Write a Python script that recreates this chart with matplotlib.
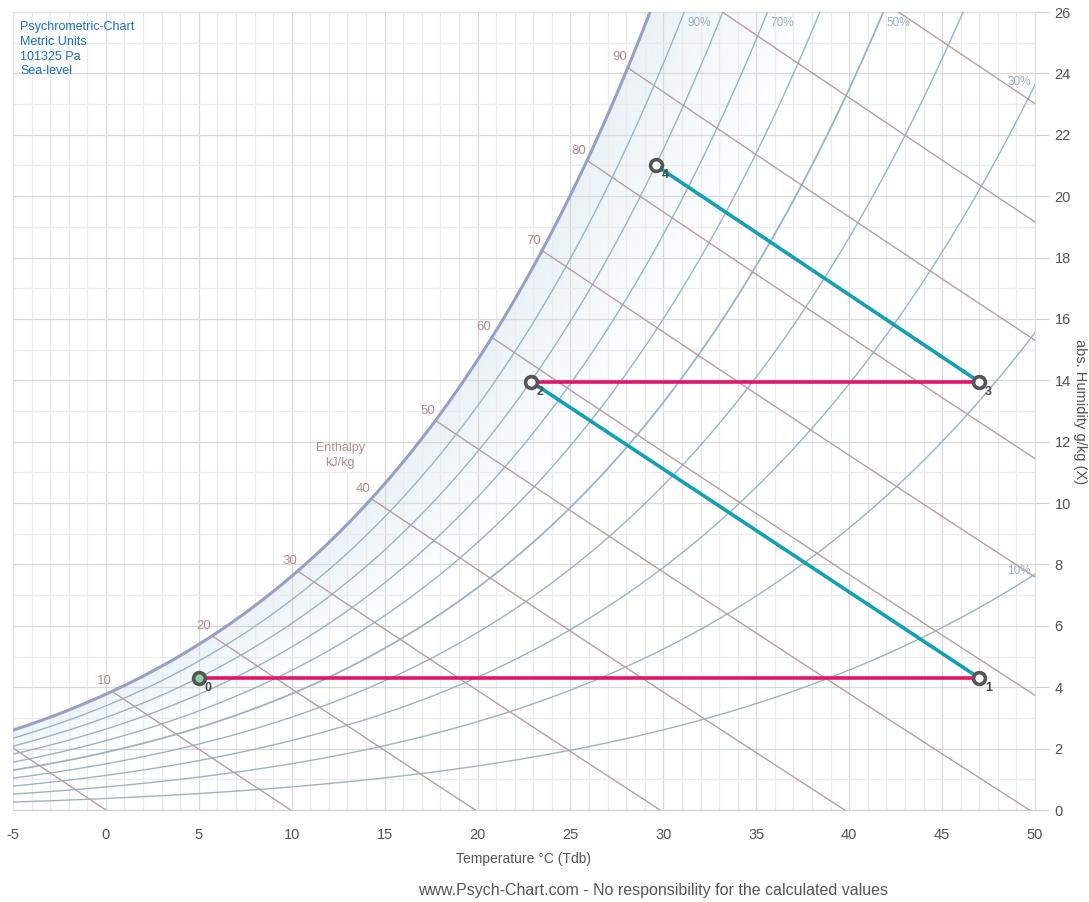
import numpy as np
import matplotlib
matplotlib.use("Agg")
import matplotlib.pyplot as plt
from matplotlib.colors import to_rgb

plt.rcParams['font.family'] = ['Liberation Sans', 'DejaVu Sans']
plt.rcParams['axes.unicode_minus'] = False

# chart settings
P = 101325.0
t_min, t_max = -5, 50
x_min, x_max = 0, 26

rh_levels = [0.1, 0.2, 0.3, 0.4, 0.5, 0.6, 0.7, 0.8, 0.9]
rh_labels = {0.9: "90%", 0.7: "70%", 0.5: "50%", 0.3: "30%", 0.1: "10%"}
enthalpy_levels = [0, 10, 20, 30, 40, 50, 60, 70, 80, 90, 100, 110]
enthalpy_labelled = [10, 20, 30, 40, 50, 60, 70, 80, 90]

# process points (temperature °C, abs. humidity g/kg)
point_names = ["0", "1", "2", "3", "4"]
point_t = [5.0, 47.0, 22.9, 47.0, 29.6]
point_x = [4.3, 4.3, 13.95, 13.95, 21.0]
segment_colors = ["#e3156b", "#12a0b2", "#e3156b", "#12a0b2"]

info_lines = ["Psychrometric-Chart", "Metric Units", "101325 Pa", "Sea-level"]


def p_sat(t):
    return 610.94 * np.exp(17.625 * t / (t + 243.04))


def hum_ratio(t, phi):
    pw = phi * p_sat(t)
    return 622.0 * pw / (P - pw)


def enthalpy_x(t, h):
    return 1000.0 * (h - 1.006 * t) / (2501.0 + 1.86 * t)


fig = plt.figure(figsize=(10.89, 9.02), dpi=100)
ax = fig.add_axes([13 / 1089, 92 / 902, 1022 / 1089, 798 / 902])
ax.set_xlim(t_min, t_max)
ax.set_ylim(x_min, x_max)

# grid
for t in range(t_min, t_max + 1):
    c = "#d9d9d9" if t % 5 == 0 else "#ebebeb"
    ax.axvline(t, color=c, lw=0.9, zorder=2)
for x in range(x_min, x_max + 1):
    c = "#d9d9d9" if x % 2 == 0 else "#ebebeb"
    ax.axhline(x, color=c, lw=0.9, zorder=2)

tt = np.linspace(t_min, t_max, 800)
x_sat = hum_ratio(tt, 1.0)

# soft gradient near saturation
c0 = np.array(to_rgb("#e9f2f8"))
c1 = np.array(to_rgb("#ffffff"))
steps = np.linspace(1.0, 0.55, 31)
for k in range(len(steps) - 1):
    f = k / (len(steps) - 2)
    col = c0 + (c1 - c0) * f
    ax.fill_between(tt, hum_ratio(tt, steps[k + 1]), hum_ratio(tt, steps[k]),
                    color=col, lw=0, zorder=1)

# relative humidity curves
for phi in rh_levels:
    lw = 1.3 if phi == 0.5 else 1.0
    ax.plot(tt, hum_ratio(tt, phi), color="#9db3c3", lw=lw, zorder=3)
ax.plot(tt, x_sat, color="#9a9ec2", lw=2.2, zorder=4)

# labels for relative humidity curves
for phi, lab in rh_labels.items():
    xe = hum_ratio(t_max, phi)
    if xe > x_max:
        tf = np.linspace(t_min, t_max, 5000)
        te = tf[np.argmax(hum_ratio(tf, phi) >= x_max)]
        ax.annotate(lab, (te, x_max), xytext=(3, -11), textcoords="offset pixels",
                    ha="left", va="center", fontsize=8.5, color="#9fb1c2", zorder=6)
    else:
        ax.annotate(lab, (t_max, xe), xytext=(-4, 3), textcoords="offset pixels",
                    ha="right", va="center", fontsize=8.5, color="#9fb1c2", zorder=6)

# enthalpy lines
tf = np.linspace(t_min, t_max, 4000)
xs_f = hum_ratio(tf, 1.0)
for h in enthalpy_levels:
    xh = enthalpy_x(tf, h)
    xh = np.where((xh <= xs_f) & (xh >= 0), xh, np.nan)
    ax.plot(tf, xh, color="#b99ea0", lw=1.0, zorder=3)
    if h in enthalpy_labelled:
        i = np.nanargmin(np.abs(enthalpy_x(tf, h) - xs_f))
        ax.annotate(str(h), (tf[i], xs_f[i]), xytext=(-8, 10), textcoords="offset pixels",
                    ha="center", va="center", fontsize=9.5, color="#b48e8e", zorder=6)

ax.text(12.6, 11.55, "Enthalpy\nkJ/kg", ha="center", va="center", fontsize=9,
        color="#b48e8e", linespacing=1.25, zorder=6)

# process lines
for i in range(len(point_t) - 1):
    ax.plot(point_t[i:i + 2], point_x[i:i + 2], color=segment_colors[i], lw=2.6,
            solid_capstyle="butt", zorder=7)
for i, name in enumerate(point_names):
    fc = "#8ecfa8" if i == 0 else "white"
    ax.plot(point_t[i], point_x[i], "o", ms=8.5, mfc=fc, mec="#555555", mew=2.6, zorder=8)
    ax.annotate(name, (point_t[i], point_x[i]), xytext=(9, -10), textcoords="offset pixels",
                ha="center", va="center", fontsize=9, fontweight="bold",
                color="#4a4a4a", zorder=9)

# axes styling
for s in ax.spines.values():
    s.set_color("#e0e0e0")
    s.set_linewidth(0.8)
ax.spines["bottom"].set_color("#cfcfcf")

ax.set_xticks(range(t_min, t_max + 1, 5))
ax.set_yticks(range(x_min, x_max + 1, 2))
ax.tick_params(axis="x", length=0, pad=13, labelsize=10.5, labelcolor="#555555")
ax.yaxis.tick_right()
ax.tick_params(axis="y", length=10, width=0.8, color="#d0d0d0", pad=4,
               labelsize=10.5, labelcolor="#555555")
ax.set_xlabel("Temperature °C (Tdb)", fontsize=10, color="#555555", labelpad=7)

fig.text(1080 / 1089, 1 - 412 / 902, "abs. Humidity g/kg (X)", fontsize=10.5,
         color="#555555", rotation=270, ha="center", va="center")

for i, line in enumerate(info_lines):
    fig.text(20 / 1089, 1 - (27 + 14.8 * i) / 902, line, fontsize=9, color="#1a6fc0",
             ha="left", va="center")

fig.text(653 / 1089, 1 - 890 / 902,
         "www.Psych-Chart.com - No responsibility for the calculated values",
         fontsize=11.5, color="#555555", ha="center", va="center")

fig.savefig("out.png", dpi=100)
